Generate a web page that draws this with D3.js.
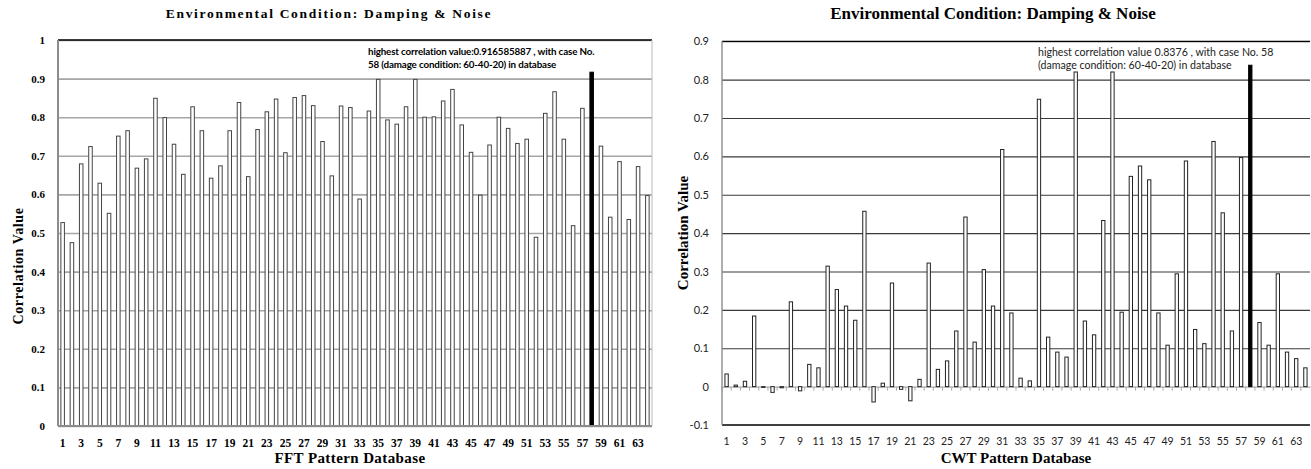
<!DOCTYPE html>
<html>
<head>
    <script src="https://d3js.org/d3.v7.min.js"></script>
    <style>
        body {margin: 0; background: white;}
        svg {display: block;}
    </style>
</head>
<body>
    <svg width="1311" height="469"></svg>
    <script>
        // case numbers in the pattern database
        let cases = d3.range(1, 65);
        let highCase = 58;

        // FFT correlation values (left chart)
        let fftValues = [
            0.527, 0.475, 0.679, 0.724, 0.629, 0.551, 0.751, 0.765, 0.668, 0.692,
            0.849, 0.799, 0.730, 0.652, 0.827, 0.765, 0.642, 0.674, 0.765, 0.838,
            0.646, 0.768, 0.814, 0.847, 0.708, 0.851, 0.856, 0.830, 0.737, 0.648,
            0.829, 0.825, 0.588, 0.816, 0.898, 0.793, 0.782, 0.827, 0.898, 0.800,
            0.801, 0.842, 0.872, 0.780, 0.709, 0.598, 0.728, 0.800, 0.771, 0.732,
            0.743, 0.489, 0.810, 0.866, 0.743, 0.519, 0.823, 0.916585887, 0.725, 0.541,
            0.685, 0.535, 0.672, 0.597
        ];

        // CWT correlation values (right chart)
        let cwtValues = [
            0.033, 0.004, 0.014, 0.184, -0.002, -0.015, -0.003, 0.221, -0.011, 0.058,
            0.049, 0.314, 0.253, 0.210, 0.173, 0.457, -0.040, 0.009, 0.270, -0.007,
            -0.037, 0.019, 0.322, 0.045, 0.067, 0.145, 0.442, 0.116, 0.305, 0.210,
            0.618, 0.192, 0.022, 0.015, 0.749, 0.129, 0.090, 0.077, 0.820, 0.171,
            0.135, 0.433, 0.820, 0.194, 0.548, 0.575, 0.539, 0.192, 0.108, 0.294,
            0.588, 0.149, 0.112, 0.639, 0.453, 0.145, 0.597, 0.8376, 0.167, 0.108,
            0.294, 0.090, 0.073, 0.049
        ];

        let fftTicks = d3.range(0, 1.01, 0.1);
        let cwtTicks = d3.range(-0.1, 0.91, 0.1);
        let xTickLabels = cases.filter(d => d % 2 === 1);

        let chartTitle = "Environmental Condition: Damping & Noise";
        let fftNote = ["highest correlation  value:0.916585887 , with case No.",
                       "58 (damage condition: 60-40-20) in database"];
        let cwtNote = ["highest correlation value 0.8376 , with case No. 58",
                       "(damage condition: 60-40-20) in database"];

        let svg = d3.select("svg");

        // ---------- left chart: FFT ----------
        let serif = "'Liberation Serif', 'DejaVu Serif', serif";
        let L = {left: 58, right: 652, top: 40, bottom: 426};
        let xL = d3.scaleBand().domain(cases).range([L.left, L.right]).paddingInner(0.62).paddingOuter(0.31);
        let yL = d3.scaleLinear().domain([0, 1]).range([L.bottom, L.top]);

        let gL = svg.append("g");

        // gridlines
        gL.append("g")
            .attr("transform", `translate(${L.left},0)`)
            .call(d3.axisLeft(yL).tickValues(fftTicks).tickSize(-(L.right - L.left)).tickFormat(""))
            .call(g => g.select(".domain").remove())
            .call(g => g.selectAll("line").attr("stroke", "#a6a6a6").attr("stroke-width", 1.6));
        gL.append("line").attr("x1", L.left).attr("x2", L.right)
            .attr("y1", yL(1)).attr("y2", yL(1)).attr("stroke", "#000").attr("stroke-width", 1.4);

        // bars
        gL.selectAll(".bar").data(fftValues).enter().append("rect")
            .attr("x", (d, i) => xL(cases[i]))
            .attr("width", xL.bandwidth())
            .attr("y", d => yL(d))
            .attr("height", d => yL(0) - yL(d))
            .attr("fill", (d, i) => cases[i] === highCase ? "#000" : "#fff")
            .attr("stroke", (d, i) => cases[i] === highCase ? "#000" : "#444")
            .attr("stroke-width", 1);

        // axis lines
        gL.append("line").attr("x1", L.left).attr("x2", L.left)
            .attr("y1", L.top).attr("y2", L.bottom).attr("stroke", "#8c8c8c").attr("stroke-width", 2);
        gL.append("line").attr("x1", L.left).attr("x2", L.right)
            .attr("y1", L.bottom).attr("y2", L.bottom).attr("stroke", "#8c8c8c").attr("stroke-width", 2);
        gL.append("line").attr("x1", L.right).attr("x2", L.right)
            .attr("y1", L.top).attr("y2", L.bottom).attr("stroke", "#bbb").attr("stroke-width", 1);

        // tick labels
        gL.append("g")
            .attr("transform", `translate(${L.left - 10},0)`)
            .call(d3.axisLeft(yL).tickValues(fftTicks).tickSize(0).tickFormat(d => +d.toFixed(1)))
            .call(g => g.select(".domain").remove())
            .call(g => g.selectAll("text").attr("font-family", serif).attr("font-weight", "bold")
                .attr("font-size", 11).attr("fill", "#000"));
        gL.append("g")
            .attr("transform", `translate(0,${L.bottom + 10})`)
            .call(d3.axisBottom(xL).tickValues(xTickLabels).tickSize(0))
            .call(g => g.select(".domain").remove())
            .call(g => g.selectAll("text").attr("font-family", serif).attr("font-weight", "bold")
                .attr("font-size", 11.5).attr("fill", "#000"));

        gL.append("text").attr("x", 329).attr("y", 18).attr("text-anchor", "middle")
            .attr("font-family", serif).attr("font-weight", "bold").attr("font-size", 13.5)
            .attr("letter-spacing", 1.7).text(chartTitle);
        gL.append("text").attr("x", 350).attr("y", 463).attr("text-anchor", "middle")
            .attr("font-family", serif).attr("font-weight", "bold").attr("font-size", 15)
            .attr("letter-spacing", 0.4).text("FFT Pattern Database");
        gL.append("text").attr("transform", "translate(23,266) rotate(-90)").attr("text-anchor", "middle")
            .attr("font-family", serif).attr("font-weight", "bold").attr("font-size", 14)
            .attr("letter-spacing", 0.6).text("Correlation Value");

        gL.selectAll(".note").data(fftNote).enter().append("text")
            .attr("x", 368).attr("y", (d, i) => 55 + i * 13)
            .attr("font-family", "Lato, sans-serif").attr("font-weight", "bold").attr("font-size", 9.8)
            .attr("letter-spacing", -0.15).text(d => d);

        // ---------- right chart: CWT ----------
        let sans = "Lato, 'Open Sans', sans-serif";
        let R = {left: 722, right: 1310, top: 41.3, bottom: 425};
        let xR = d3.scaleBand().domain(cases).range([R.left, R.right]).paddingInner(0.64).paddingOuter(0.32);
        let yR = d3.scaleLinear().domain([-0.1, 0.9]).range([R.bottom, R.top]);

        let gR = svg.append("g");

        gR.append("g")
            .attr("transform", `translate(${R.left},0)`)
            .call(d3.axisLeft(yR).tickValues(cwtTicks.filter(d => d > 0.05)).tickSize(-(R.right - R.left)).tickFormat(""))
            .call(g => g.select(".domain").remove())
            .call(g => g.selectAll("line").attr("stroke", "#3a3a3a").attr("stroke-width", 1.1));
        gR.append("line").attr("x1", R.left).attr("x2", R.right)
            .attr("y1", yR(0.9)).attr("y2", yR(0.9)).attr("stroke", "#000").attr("stroke-width", 1.3);
        gR.append("line").attr("x1", R.left).attr("x2", R.right)
            .attr("y1", yR(-0.1)).attr("y2", yR(-0.1)).attr("stroke", "#000").attr("stroke-width", 1.3);

        // zero line with category ticks
        gR.append("g")
            .attr("transform", `translate(0,${yR(0)})`)
            .call(d3.axisBottom(xR).tickValues([]).tickSizeOuter(0))
            .call(g => g.select(".domain").attr("stroke", "#aaa").attr("stroke-width", 1.3));
        gR.selectAll(".ctick").data(cases).enter().append("line")
            .attr("x1", d => xR(d) - xR.step() * xR.paddingInner() / 2)
            .attr("x2", d => xR(d) - xR.step() * xR.paddingInner() / 2)
            .attr("y1", yR(0)).attr("y2", yR(0) + 4)
            .attr("stroke", "#aaa").attr("stroke-width", 1);

        gR.selectAll(".bar").data(cwtValues).enter().append("rect")
            .attr("x", (d, i) => xR(cases[i]))
            .attr("width", xR.bandwidth())
            .attr("y", d => yR(Math.max(0, d)))
            .attr("height", d => Math.abs(yR(0) - yR(d)))
            .attr("fill", (d, i) => cases[i] === highCase ? "#000" : "#fff")
            .attr("stroke", (d, i) => cases[i] === highCase ? "#000" : "#222")
            .attr("stroke-width", 1);

        gR.append("line").attr("x1", R.left).attr("x2", R.left)
            .attr("y1", R.top).attr("y2", R.bottom).attr("stroke", "#8c8c8c").attr("stroke-width", 1.4);

        gR.append("g")
            .attr("transform", `translate(${R.left - 10},0)`)
            .call(d3.axisLeft(yR).tickValues(cwtTicks).tickSize(0).tickFormat(d => +d.toFixed(1)))
            .call(g => g.select(".domain").remove())
            .call(g => g.selectAll("text").attr("font-family", sans).attr("font-size", 11).attr("fill", "#222"));
        gR.append("g")
            .attr("transform", `translate(0,${R.bottom + 10})`)
            .call(d3.axisBottom(xR).tickValues(xTickLabels).tickSize(0))
            .call(g => g.select(".domain").remove())
            .call(g => g.selectAll("text").attr("font-family", sans).attr("font-size", 10.5).attr("fill", "#222"));

        gR.append("text").attr("x", 993).attr("y", 19).attr("text-anchor", "middle")
            .attr("font-family", serif).attr("font-weight", "bold").attr("font-size", 17)
            .text(chartTitle);
        gR.append("text").attr("x", 1016).attr("y", 463).attr("text-anchor", "middle")
            .attr("font-family", serif).attr("font-weight", "bold").attr("font-size", 15)
            .text("CWT Pattern Database");
        gR.append("text").attr("transform", "translate(688,233) rotate(-90)").attr("text-anchor", "middle")
            .attr("font-family", serif).attr("font-weight", "bold").attr("font-size", 15)
            .text("Correlation Value");

        gR.selectAll(".note").data(cwtNote).enter().append("text")
            .attr("x", 1038).attr("y", (d, i) => 56 + i * 13)
            .attr("font-family", sans).attr("font-size", 10.6).attr("fill", "#222")
            .text(d => d);
    </script>
</body>
</html>
